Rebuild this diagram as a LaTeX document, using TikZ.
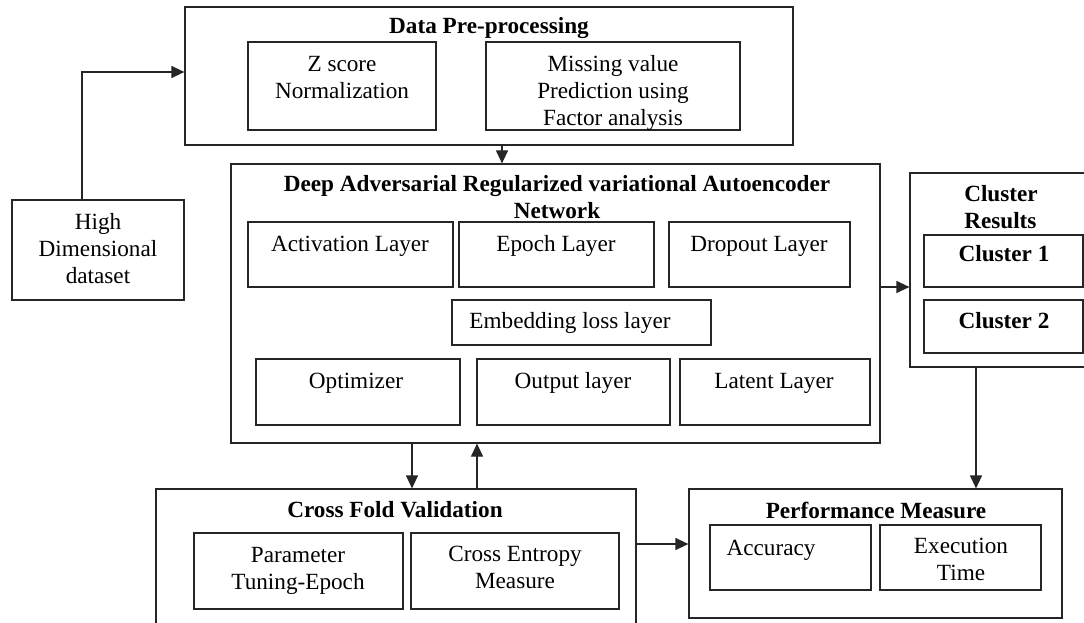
\documentclass[tikz,border=0pt]{standalone}
\usepackage{fontspec}
\setmainfont{Liberation Serif}
\usetikzlibrary{arrows.meta}

\begin{document}
\begin{tikzpicture}[x=1pt,y=-1pt,
  box/.style={draw=black!85, line width=1.2pt, rectangle, inner sep=0pt},
  txt/.style={inner sep=0pt, align=center, font=\fontsize{23.2}{27}\selectfont},
  ttl/.style={txt, font=\fontsize{23.2}{27}\selectfont\bfseries},
  arr/.style={draw=black!85, line width=1.2pt, -{Triangle[length=13pt,width=12pt]}}]
\useasboundingbox (0,0) rectangle (1084,623);

% data pre-processing block
\node[box, minimum width=608pt, minimum height=138pt] (pre) at (489,76) {};
\node[ttl] (preT) at (489,28) {Data Pre-processing};
\node[box, minimum width=188pt, minimum height=88pt] (zs) at (342,86) {};
\node[txt] (zsT) at (342,77.5) {Z score\\Normalization};
\node[box, minimum width=254pt, minimum height=88pt] (mv) at (613,86) {};
\node[txt] (mvT) at (613,93) {Missing value\\Prediction using\\Factor analysis};

% input dataset
\node[box, minimum width=172pt, minimum height=100pt] (data) at (98,250) {};
\node[txt] (dataT) at (98,249) {High\\Dimensional\\dataset};

% autoencoder network
\node[box, minimum width=649pt, minimum height=279pt] (darva) at (555.5,303.5) {};
\node[ttl] (darvaT) at (557,197.5) {Deep Adversarial Regularized variational Autoencoder\\Network};
\node[box, minimum width=205pt, minimum height=65pt] (act) at (350.5,254.5) {};
\node[txt] (actT) at (350,246) {Activation Layer};
\node[box, minimum width=195pt, minimum height=65pt] (epo) at (556.5,254.5) {};
\node[txt] (epoT) at (556,246) {Epoch Layer};
\node[box, minimum width=181pt, minimum height=65pt] (drop) at (759.5,254.5) {};
\node[txt] (dropT) at (759,246) {Dropout Layer};
\node[box, minimum width=259pt, minimum height=45pt] (emb) at (581.5,322.5) {};
\node[txt] (embT) at (570,323) {Embedding loss layer};
\node[box, minimum width=204pt, minimum height=66pt] (opt) at (358,392) {};
\node[txt] (optT) at (356,383) {Optimizer};
\node[box, minimum width=193pt, minimum height=66pt] (outl) at (573.5,392) {};
\node[txt] (outT) at (573,383) {Output layer};
\node[box, minimum width=190pt, minimum height=66pt] (lat) at (775,392) {};
\node[txt] (latT) at (774,383) {Latent Layer};

% cluster results
\node[box, minimum width=178pt, minimum height=194pt] (clus) at (999,270) {};
\node[ttl, align=left] (clusT) at (1001,207.5) {Cluster\\Results};
\node[box, minimum width=159pt, minimum height=52pt] (c1) at (1003.5,261) {};
\node[ttl] (c1T) at (1004,254) {Cluster 1};
\node[box, minimum width=159pt, minimum height=53pt] (c2) at (1003.5,326.5) {};
\node[ttl] (c2T) at (1004,321) {Cluster 2};

% cross fold validation
\node[box, minimum width=480pt, minimum height=141pt] (cfv) at (396,559.5) {};
\node[ttl] (cfvT) at (395,510) {Cross Fold Validation};
\node[box, minimum width=209pt, minimum height=76pt] (par) at (298.5,571) {};
\node[txt] (parT) at (298,571) {Parameter\\Tuning-Epoch};
\node[box, minimum width=208pt, minimum height=76pt] (ce) at (515,571) {};
\node[txt] (ceT) at (515,567.5) {Cross Entropy\\Measure};

% performance measure
\node[box, minimum width=373pt, minimum height=129pt] (perf) at (875.5,553.5) {};
\node[ttl] (perfT) at (876,510.5) {Performance Measure};
\node[box, minimum width=161pt, minimum height=65pt] (acc) at (790.5,557.5) {};
\node[txt] (accT) at (771,550) {Accuracy};
\node[box, minimum width=161pt, minimum height=65pt] (exe) at (960.5,557.5) {};
\node[txt] (exeT) at (961,559.5) {Execution\\Time};

% connectors
\draw[arr] (data.north -| 82,0) |- (pre.west |- 0,72);
\draw[arr] (pre.south -| 502,0) -- (darva.north -| 502,0);
\draw[arr] (darva.east |- 0,287) -- (clus.west |- 0,287);
\draw[arr] (darva.south -| 412,0) -- (cfv.north -| 412,0);
\draw[arr] (cfv.north -| 477,0) -- (darva.south -| 477,0);
\draw[arr] (clus.south -| 976,0) -- (perf.north -| 976,0);
\draw[arr] (cfv.east |- 0,544) -- (perf.west |- 0,544);
\end{tikzpicture}
\end{document}
